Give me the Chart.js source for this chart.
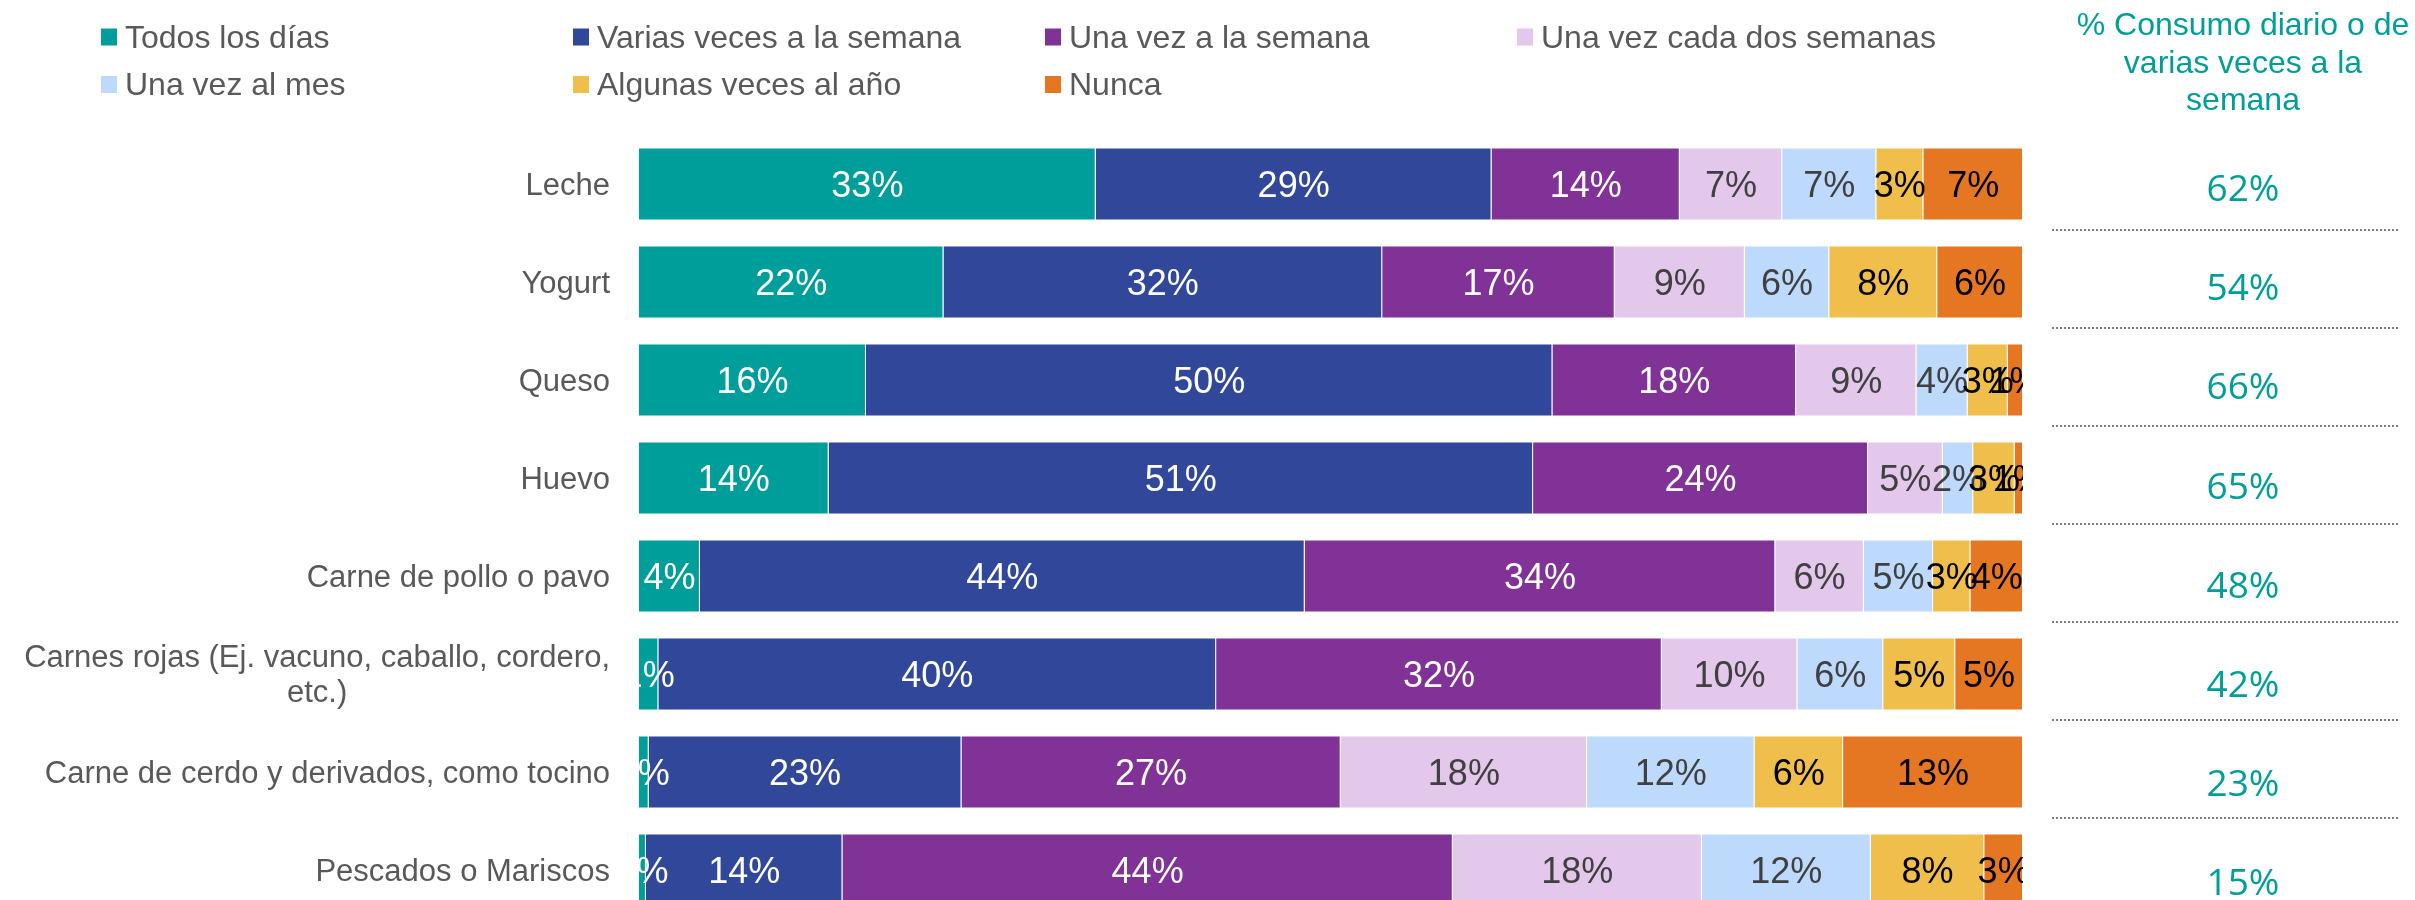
<!DOCTYPE html>
<html lang="es">
<head>
<meta charset="utf-8">
<title>Frecuencia de consumo</title>
<script src="https://cdn.jsdelivr.net/npm/chart.js@4.4.0/dist/chart.umd.min.js"></script>
<style>
html, body { margin: 0; padding: 0; background: #ffffff; overflow: hidden; }
canvas { display: block; }
</style>
</head>
<body>
<canvas id="grafico" width="2415" height="940"></canvas>
<script>
'use strict'

// categorias (filas)
const categorias = [
    'Leche',
    'Yogurt',
    'Queso',
    'Huevo',
    'Carne de pollo o pavo',
    ['Carnes rojas (Ej. vacuno, caballo, cordero,', 'etc.)'],
    'Carne de cerdo y derivados, como tocino',
    'Pescados o Mariscos'
];

// nombres de las series
const nombresSeries = [
    'Todos los días',
    'Varias veces a la semana',
    'Una vez a la semana',
    'Una vez cada dos semanas',
    'Una vez al mes',
    'Algunas veces al año',
    'Nunca'
];

// valores (%) por serie
const todosLosDias    = [33.0, 22.0, 16.4, 13.7,  4.4,  1.4,  0.7,  0.5];
const variasVeces     = [28.6, 31.7, 49.6, 50.9, 43.7, 40.3, 22.6, 14.2];
const unaVezSemana    = [13.6, 16.8, 17.6, 24.2, 34.0, 32.2, 27.4, 44.1];
const cadaDosSemanas  = [ 7.4,  9.4,  8.7,  5.4,  6.4,  9.8, 17.8, 18.0];
const unaVezMes       = [ 6.8,  6.1,  3.7,  2.2,  5.0,  6.2, 12.1, 12.2];
const algunasVecesAno = [ 3.4,  7.8,  2.9,  3.0,  2.7,  5.2,  6.4,  8.2];
const nunca           = [ 7.2,  6.2,  1.1,  0.6,  3.8,  4.9, 13.0,  2.8];

// columna derecha
const tituloColumna = ['% Consumo diario o de', 'varias veces a la', 'semana'];
const consumoDiario = [62, 54, 66, 65, 48, 42, 23, 15];

const series = [todosLosDias, variasVeces, unaVezSemana, cadaDosSemanas, unaVezMes, algunasVecesAno, nunca];
const colores = ['#009e9a', '#30479a', '#803296', '#e3c8ec', '#bddafc', '#f0be4a', '#e67722'];
const coloresEtiqueta = ['#ffffff', '#ffffff', '#ffffff', '#404040', '#404040', '#000000', '#000000'];

const FUENTE = '"Liberation Sans", Arial, sans-serif';
const TEAL = '#009e98';

//==================================================================================================

// leyenda en 4 columnas
const leyenda = {
    id: 'leyenda',
    afterDraw(chart){
        const ctx = chart.ctx;
        ctx.save();
        ctx.font = '32px ' + FUENTE;
        ctx.textAlign = 'left';
        ctx.textBaseline = 'alphabetic';
        chart.data.datasets.forEach((ds, i) => {
            const x = 101 + (i % 4) * 472;
            const base = i < 4 ? 47.5 : 95;
            ctx.fillStyle = ds.backgroundColor;
            ctx.fillRect(x, base - 19, 16, 17);
            ctx.fillStyle = '#595959';
            ctx.fillText(ds.label, x + 24, base);
        });
        ctx.restore();
    }
};

// etiquetas de categoria (eje y)
const etiquetasCategorias = {
    id: 'etiquetasCategorias',
    afterDraw(chart){
        const ctx = chart.ctx;
        const y = chart.scales.y;
        const derecha = chart.chartArea.left - 29;
        ctx.save();
        ctx.font = '31px ' + FUENTE;
        ctx.fillStyle = '#595959';
        ctx.textBaseline = 'alphabetic';
        chart.data.labels.forEach((lab, i) => {
            const cy = y.getPixelForValue(i);
            if(Array.isArray(lab)){
                const w = ctx.measureText(lab[0]).width;
                ctx.textAlign = 'right';
                ctx.fillText(lab[0], derecha, cy - 7);
                ctx.textAlign = 'center';
                ctx.fillText(lab[1], derecha - w / 2, cy + 28);
            }
            else{
                ctx.textAlign = 'right';
                ctx.fillText(lab, derecha, cy + 10.5);
            }
        });
        ctx.restore();
    }
};

// porcentajes dentro de las barras
const etiquetasDatos = {
    id: 'etiquetasDatos',
    afterDatasetsDraw(chart){
        const ctx = chart.ctx;
        const area = chart.chartArea;
        ctx.save();
        ctx.beginPath();
        ctx.rect(area.left, area.top, area.right - area.left, area.bottom - area.top);
        ctx.clip();
        ctx.font = '36px ' + FUENTE;
        ctx.textAlign = 'center';
        ctx.textBaseline = 'alphabetic';
        chart.data.datasets.forEach((ds, i) => {
            const meta = chart.getDatasetMeta(i);
            meta.data.forEach((bar, j) => {
                const cx = (bar.x + bar.base) / 2;
                ctx.fillStyle = coloresEtiqueta[i];
                ctx.fillText(Math.round(ds.data[j]) + '%', cx, bar.y + 13);
            });
        });
        ctx.restore();
    }
};

// columna "% Consumo diario o de varias veces a la semana"
const columnaDerecha = {
    id: 'columnaDerecha',
    afterDraw(chart){
        const ctx = chart.ctx;
        const y = chart.scales.y;
        const cx = 2243;
        ctx.save();
        ctx.fillStyle = TEAL;
        ctx.textAlign = 'center';
        ctx.textBaseline = 'alphabetic';
        ctx.font = '32px ' + FUENTE;
        tituloColumna.forEach((linea, k) => {
            ctx.fillText(linea, cx, 35 + k * 37.5);
        });

        //la tabla de la derecha baja un poco mas que las barras
        ctx.font = '37px "Open Sans", sans-serif';
        consumoDiario.forEach((v, i) => {
            ctx.fillText(v + '%', cx, y.getPixelForValue(i) + 17 + i * 1.2);
        });

        // lineas punteadas entre filas
        ctx.strokeStyle = '#7f7f7f';
        ctx.lineWidth = 2;
        ctx.setLineDash([2, 2]);
        for(let i = 0; i < consumoDiario.length - 1; i++){
            const ly = Math.round((y.getPixelForValue(i) + y.getPixelForValue(i + 1)) / 2 - 3);
            ctx.beginPath();
            ctx.moveTo(2052, ly);
            ctx.lineTo(2400, ly);
            ctx.stroke();
        }
        ctx.restore();
    }
};

new Chart(document.getElementById('grafico'), {
    type: 'bar',
    data: {
        labels: categorias,
        datasets: series.map((datos, i) => ({
            label: nombresSeries[i],
            data: datos,
            backgroundColor: colores[i],
            borderColor: 'rgba(255,255,255,0.3)',
            borderWidth: 1,
            categoryPercentage: 1,
            barPercentage: 0.745
        }))
    },
    options: {
        responsive: false,
        devicePixelRatio: 1,
        animation: false,
        indexAxis: 'y',
        layout: { padding: { left: 639, right: 392, top: 135, bottom: 21 } },
        plugins: {
            legend: { display: false },
            tooltip: { enabled: false }
        },
        scales: {
            x: { stacked: true, min: 0, max: 100, display: false },
            y: { stacked: true, display: false }
        }
    },
    plugins: [leyenda, etiquetasCategorias, etiquetasDatos, columnaDerecha]
});
</script>
</body>
</html>
